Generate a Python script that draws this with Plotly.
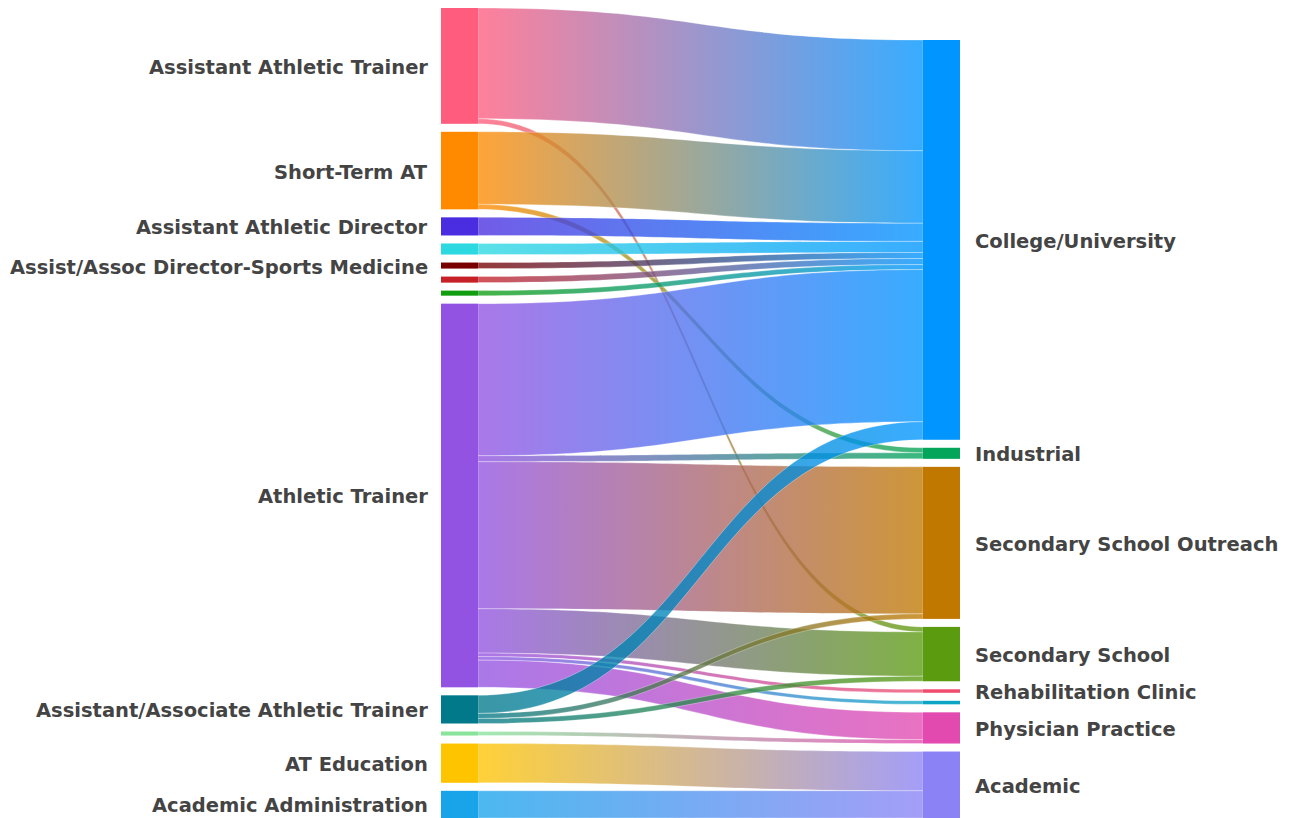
import json
import plotly.graph_objects as go

# ---------------- data ----------------
left_nodes = ["Assistant Athletic Trainer", "Short-Term AT", "Assistant Athletic Director", "",
              "Assist/Assoc Director-Sports Medicine", "", "", "Athletic Trainer",
              "Assistant/Associate Athletic Trainer", "", "AT Education", "Academic Administration"]
left_colors = ["#FF5C7E", "#FF8A00", "#4A2DE0", "#2CD9E1", "#780000", "#C62127", "#109E10",
               "#9252E2", "#02798A", "#88E49A", "#FFC400", "#19A4EA"]

right_nodes = ["College/University", "Industrial", "Secondary School Outreach", "Secondary School",
               "Rehabilitation Clinic", "", "Physician Practice", "Academic"]
right_colors = ["#0095FF", "#02A55A", "#C07800", "#5B9B0F", "#F04D6E", "#0AA5C5", "#E34AB0", "#8A82F5"]

link_source = [0, 0, 1, 1, 2, 3, 4, 5, 6, 7, 7, 7, 7, 7, 7, 7, 8, 8, 8, 9, 10, 11]
link_target = [0, 3, 0, 1, 0, 0, 0, 0, 0, 0, 1, 2, 3, 4, 5, 6, 0, 2, 3, 6, 7, 7]
link_value = [110, 5, 72, 5, 18, 11, 6, 6, 5, 151, 6, 146, 44, 3.5, 3.5, 27, 18, 5, 5, 4, 39, 27]

# ---------------- layout geometry ----------------
W, HF = 1292, 818
TOP = 8
H = HF - TOP
PAD = 8
THICK = 37
XL, XR = 459.5, 941.5       # node centres (px)
LABEL_L, LABEL_R = 430, 973  # label anchors (px)
FONT = dict(family="DejaVu Sans", size=19.5, color="#444", weight="bold")

nL, nR = len(left_nodes), len(right_nodes)
left_tot = [0.0] * nL
right_tot = [0.0] * nR
for s, t, v in zip(link_source, link_target, link_value):
    left_tot[s] += v
    right_tot[t] += v

ky = min((H - (nL - 1) * PAD) / sum(left_tot), (H - (nR - 1) * PAD) / sum(right_tot))


def centres(tots, start):
    out, cur = [], start
    for v in tots:
        h = v * ky
        out.append(cur + h / 2)
        cur += h + PAD
    return out


cL = centres(left_tot, 0)
cR = centres(right_tot, H - (sum(right_tot) * ky + (nR - 1) * PAD))

node_x = [XL / W] * nL + [XR / W] * nR
node_y = [c / H for c in cL + cR]
all_names = left_nodes + right_nodes
all_colors = left_colors + right_colors


def hex_rgb(h):
    h = h.lstrip("#")
    return tuple(int(h[i:i + 2], 16) for i in (0, 2, 4))


src_cols = [left_colors[s] for s in link_source]
tgt_cols = [right_colors[t] for t in link_target]
fallback = []
for a, b in zip(src_cols, tgt_cols):
    ra, rb = hex_rgb(a), hex_rgb(b)
    m = [int((x + y) / 2) for x, y in zip(ra, rb)]
    fallback.append(f"rgba({m[0]},{m[1]},{m[2]},0.78)")

fig = go.Figure(go.Sankey(
    arrangement="fixed",
    domain=dict(x=[0, 1], y=[0, 1]),
    node=dict(
        label=["" for _ in all_names],
        customdata=all_names,
        hovertemplate="%{customdata}<extra></extra>",
        color=all_colors,
        x=node_x,
        y=node_y,
        pad=PAD,
        thickness=THICK,
        line=dict(width=0),
    ),
    link=dict(
        source=link_source,
        target=[nL + t for t in link_target],
        value=link_value,
        color=fallback,
        line=dict(color="rgba(255,255,255,0.6)", width=0.5),
    ),
))

annotations = []
for name, c in zip(left_nodes, cL):
    if name:
        annotations.append(dict(x=LABEL_L / W, y=1 - (c + 1.5) / H, xref="paper", yref="paper",
                                text=name, showarrow=False, xanchor="right", yanchor="middle",
                                font=FONT))
for name, c in zip(right_nodes, cR):
    if name:
        annotations.append(dict(x=LABEL_R / W, y=1 - (c + 1.5) / H, xref="paper", yref="paper",
                                text=name, showarrow=False, xanchor="left", yanchor="middle",
                                font=FONT))

fig.update_layout(
    width=W, height=HF,
    margin=dict(l=0, r=0, t=TOP, b=0),
    paper_bgcolor="white",
    plot_bgcolor="white",
    annotations=annotations,
    font=dict(family="DejaVu Sans", color="#444"),
)

post = """
document.body.style.margin = '0';
var gd = document.getElementById('{plot_id}');
var SRC = %s, TGT = %s;
function paintLinks(){
  var ns = 'http://www.w3.org/2000/svg';
  var svg = gd.querySelector('svg.main-svg');
  if(!svg) return;
  var defs = svg.querySelector('defs');
  if(!defs){ defs = document.createElementNS(ns, 'defs'); svg.insertBefore(defs, svg.firstChild); }
  var paths = gd.querySelectorAll('path.sankey-link');
  for(var k = 0; k < paths.length; k++){
    var p = paths[k];
    var d = p.__data__;
    var i = (d && d.link && d.link.pointNumber != null) ? d.link.pointNumber : k;
    var id = 'lgrad' + i;
    if(!document.getElementById(id)){
      var g = document.createElementNS(ns, 'linearGradient');
      g.setAttribute('id', id);
      g.setAttribute('x1', '0'); g.setAttribute('x2', '1');
      g.setAttribute('y1', '0'); g.setAttribute('y2', '0');
      var s1 = document.createElementNS(ns, 'stop');
      s1.setAttribute('offset', '0'); s1.setAttribute('stop-color', SRC[i]);
      var s2 = document.createElementNS(ns, 'stop');
      s2.setAttribute('offset', '1'); s2.setAttribute('stop-color', TGT[i]);
      g.appendChild(s1); g.appendChild(s2);
      defs.appendChild(g);
    }
    p.style.fill = 'url(#' + id + ')';
    p.style.fillOpacity = '0.78';
  }
}
paintLinks();
gd.on('plotly_afterplot', paintLinks);
""" % (json.dumps(src_cols), json.dumps(tgt_cols))

fig.write_html("out.html", post_script=post, config={"displayModeBar": False})
